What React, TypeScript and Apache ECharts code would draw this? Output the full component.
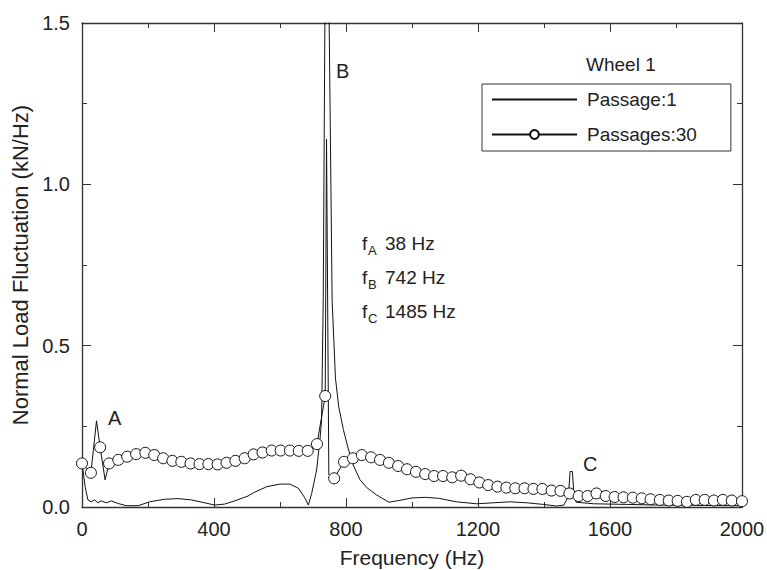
import React, { useEffect, useRef } from "react";
import * as echarts from "echarts";

// Passage:1 (thin line)
const freq1 = [0, 10, 18, 28, 38, 48, 58, 74, 89, 109, 134, 170, 205, 250, 291, 331, 372, 402, 432, 463, 503, 519, 560, 600, 630, 656, 676, 686, 696, 711, 721, 726, 731, 736, 742, 749, 758, 768, 778, 792, 807, 822, 842, 863, 893, 930, 960, 1000, 1040, 1080, 1135, 1196, 1246, 1297, 1348, 1398, 1438, 1460, 1470, 1475, 1479, 1486, 1490, 1497, 1550, 1650, 1750, 1850, 2000];
const load1 = [0.135, 0.06, 0.022, 0.016, 0.022, 0.013, 0.019, 0.013, 0.019, 0.011, 0.004, 0.004, 0.016, 0.024, 0.026, 0.022, 0.013, 0.006, 0.009, 0.019, 0.034, 0.044, 0.063, 0.071, 0.071, 0.058, 0.027, 0.006, 0.042, 0.115, 0.208, 0.27, 0.64, 1.5, 2.3, 1.5, 0.64, 0.4, 0.31, 0.24, 0.18, 0.13, 0.085, 0.06, 0.037, 0.015, 0.02, 0.028, 0.03, 0.027, 0.016, 0.01, 0.013, 0.016, 0.013, 0.008, 0.003, 0.006, 0.025, 0.05, 0.11, 0.11, 0.05, 0.015, 0.01, 0.008, 0.006, 0.005, 0.004];

// Passages:30 (line with circles)
const freq30 = [0, 27, 44, 55, 70, 82, 110, 137, 164, 192, 219, 246, 274, 301, 329, 356, 383, 411, 438, 465, 493, 520, 547, 575, 602, 630, 657, 684, 712, 737, 741, 748, 764, 794, 821, 848, 876, 903, 930, 958, 985, 1012, 1040, 1067, 1094, 1122, 1149, 1177, 1204, 1231, 1259, 1286, 1313, 1341, 1368, 1395, 1423, 1450, 1477, 1505, 1532, 1559, 1587, 1614, 1641, 1669, 1696, 1723, 1751, 1778, 1805, 1833, 1860, 1887, 1915, 1942, 1969, 2000];
const load30 = [0.135, 0.106, 0.267, 0.185, 0.084, 0.135, 0.146, 0.156, 0.164, 0.168, 0.161, 0.151, 0.143, 0.14, 0.135, 0.133, 0.133, 0.132, 0.137, 0.143, 0.151, 0.163, 0.169, 0.175, 0.175, 0.175, 0.174, 0.174, 0.195, 0.344, 1.14, 0.1, 0.089, 0.14, 0.151, 0.161, 0.154, 0.146, 0.137, 0.127, 0.117, 0.109, 0.102, 0.096, 0.096, 0.092, 0.097, 0.086, 0.076, 0.068, 0.063, 0.06, 0.058, 0.058, 0.056, 0.056, 0.051, 0.05, 0.042, 0.034, 0.034, 0.042, 0.034, 0.031, 0.03, 0.029, 0.027, 0.024, 0.022, 0.02, 0.019, 0.016, 0.022, 0.022, 0.02, 0.022, 0.02, 0.018];
// frequencies of line vertices drawn without a circle marker
const unmarked30 = [44, 70, 741, 748];

const seriesNames = ["Passage:1", "Passages:30"];
const xTicks = { min: 0, max: 2000, interval: 400 };
const yTicks = { min: 0, max: 1.5, interval: 0.5 };

const FONT = "'Liberation Sans', Arial, Helvetica, sans-serif";
const AX = "#333";
const TXT = "#222";

export default function App() {
  const ref = useRef<HTMLDivElement>(null);
  useEffect(() => {
    if (!ref.current) return;
    const chart = echarts.init(ref.current, undefined, { renderer: "svg" });
    const d1 = freq1.map((f, i) => [f, load1[i]]);
    const d30 = freq30.map((f, i) =>
      unmarked30.includes(f) ? { value: [f, load30[i]], symbol: "none" } : { value: [f, load30[i]] }
    );
    const axisCommon = {
      axisLine: { show: true, onZero: false, lineStyle: { color: AX, width: 1.3 } },
      axisTick: { show: true, inside: true, length: 9, lineStyle: { color: AX, width: 1 } },
      minorTick: { show: true, splitNumber: 2, length: 5, lineStyle: { color: AX, width: 1 } },
      splitLine: { show: false },
    };
    const sub = (x: number, y: number, t: string) => ({
      type: "text", left: x, top: y, style: { text: t, font: `13px ${FONT}`, fill: TXT },
    });
    const txt = (x: number, y: number, t: string, size = 19) => ({
      type: "text", left: x, top: y, style: { text: t, font: `${size}px ${FONT}`, fill: TXT },
    });
    chart.setOption({
      animation: false,
      textStyle: { fontFamily: FONT },
      grid: { left: 82, right: 25, top: 23, bottom: 63, containLabel: false, outerBoundsMode: "none" },
      legend: {
        data: [
          { name: seriesNames[0], itemStyle: { opacity: 0 } },
          { name: seriesNames[1] },
        ],
        orient: "vertical",
        left: 482,
        top: 84,
        padding: [6, 34, 7, 9],
        itemWidth: 85,
        itemHeight: 11,
        itemGap: 16,
        borderColor: AX,
        borderWidth: 1,
        textStyle: { fontSize: 19, color: TXT, fontFamily: FONT, padding: [0, 0, 0, 5] },
      },
      xAxis: [
        {
          type: "value", position: "bottom", ...xTicks, ...axisCommon,
          axisLabel: { fontSize: 20, color: TXT, margin: 12, fontFamily: FONT, formatter: (v: number) => String(v) },
          name: "Frequency (Hz)", nameLocation: "middle", nameGap: 40,
          nameTextStyle: { fontSize: 21, color: TXT, fontFamily: FONT },
        },
        { type: "value", position: "top", ...xTicks, ...axisCommon, axisLabel: { show: false } },
      ],
      yAxis: [
        {
          type: "value", position: "left", ...yTicks, ...axisCommon,
          axisLabel: { fontSize: 20, color: TXT, margin: 12, fontFamily: FONT, formatter: (v: number) => v.toFixed(1) },
          name: "Normal Load Fluctuation (kN/Hz)", nameLocation: "middle", nameGap: 51,
          nameTextStyle: { fontSize: 22, color: TXT, fontFamily: FONT },
        },
        { type: "value", position: "right", ...yTicks, ...axisCommon, axisLabel: { show: false } },
      ],
      series: [
        {
          name: seriesNames[0], type: "line", data: d1, showSymbol: false, symbol: "none",
          lineStyle: { color: "#111", width: 1 }, itemStyle: { color: "#111" }, z: 2,
        },
        {
          name: seriesNames[1], type: "line", data: d30, symbol: "circle", symbolSize: 11,
          lineStyle: { color: "#111", width: 1 },
          itemStyle: { color: "#fff", borderColor: "#111", borderWidth: 1 }, z: 3,
        },
      ],
      graphic: [
        txt(586, 55, "Wheel 1"),
        txt(108, 408, "A", 20),
        txt(336, 61, "B", 20),
        txt(583, 454, "C", 20),
        txt(362, 234, "f"), sub(368, 244, "A"), txt(385, 234, "38 Hz"),
        txt(362, 268, "f"), sub(368, 278, "B"), txt(385, 268, "742 Hz"),
        txt(362, 302, "f"), sub(368, 312, "C"), txt(385, 302, "1485 Hz"),
      ],
    });
    return () => chart.dispose();
  }, []);
  return <div ref={ref} style={{ width: 767, height: 570, position: "absolute", left: 0, top: 0 }} />;
}
